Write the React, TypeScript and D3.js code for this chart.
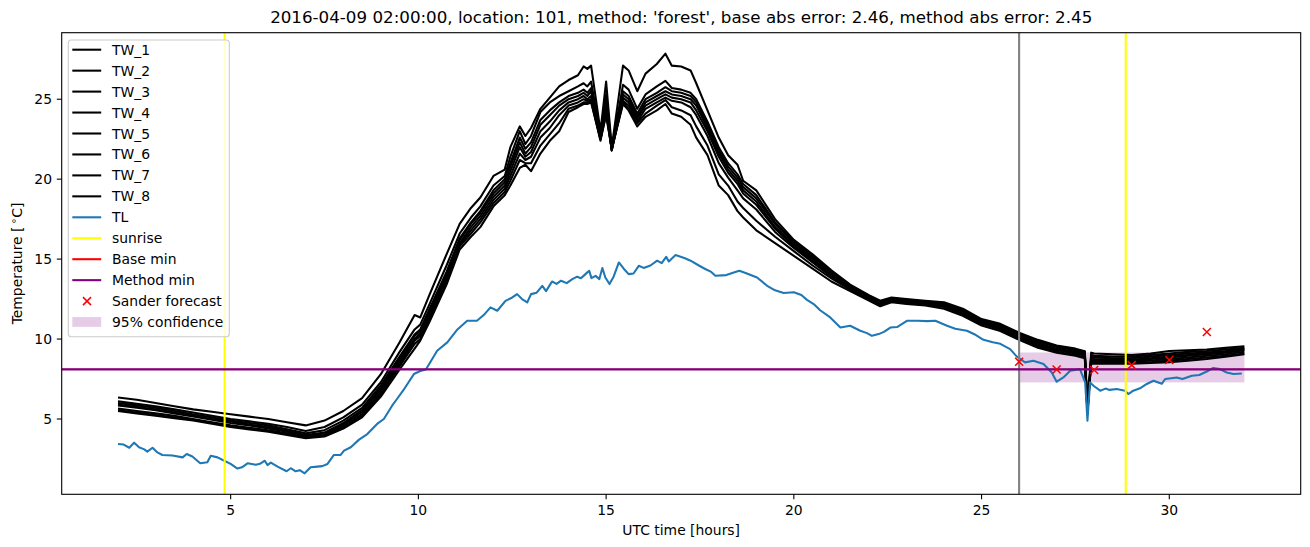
import React, { useEffect } from 'react';
import * as d3 from 'd3';

// shared time axis of the eight TW sensor series (hours UTC)
const twHours = [
  2, 2.5, 3, 3.5, 4, 4.5, 5, 5.5, 6, 6.5,
  7, 7.5, 8, 8.5, 9, 9.5, 9.9, 10.05, 10.3, 10.75,
  11.1, 11.4, 11.65, 12, 12.3, 12.45, 12.7, 12.85, 13, 13.25,
  13.5, 13.75, 14, 14.25, 14.4, 14.5, 14.6, 14.85, 15, 15.15,
  15.45, 15.6, 15.83, 16.05, 16.35, 16.58, 16.75, 17, 17.25, 17.4,
  17.7, 18, 18.25, 18.5, 18.65, 19, 19.5, 20, 20.5, 21,
  21.5, 22, 22.3, 22.6, 23, 23.5, 24, 24.5, 25, 25.5,
  26, 26.5, 27, 27.5, 27.75, 27.82, 27.92, 28, 28.5, 29,
  29.5, 30, 30.5, 31, 31.5, 32,
];

const tw1 = [
  6.35, 6.2, 6.0, 5.8, 5.6, 5.45, 5.3, 5.15, 5.0, 4.8,
  4.6, 4.9, 5.5, 6.3, 7.8, 9.8, 11.5, 11.35, 12.8, 15.3,
  17.2, 18.2, 18.85, 20.2, 20.6, 22.0, 23.3, 22.7, 23.2, 24.4,
  25.1, 25.8, 26.2, 26.5, 27.05, 26.9, 27.1, 23.0, 26.1, 22.0,
  27.1, 26.8, 25.5, 26.6, 27.2, 27.85, 27.1, 27.05, 26.8, 26.0,
  24.3, 22.6, 21.5, 20.9, 19.9, 19.3, 17.5, 16.2, 15.3, 14.3,
  13.4, 12.75, 12.4, 12.6, 12.5, 12.4, 12.3, 11.9, 11.25, 10.95,
  10.4, 9.95, 9.6, 9.4, 9.23, 5.5, 9.15, 9.1, 9.05, 9.0,
  9.1, 9.25, 9.3, 9.35, 9.45, 9.55,
];
const tw2 = [
  6.1, 5.95, 5.8, 5.6, 5.4, 5.2, 5.0, 4.85, 4.7, 4.5,
  4.25, 4.5, 5.1, 5.9, 7.3, 9.2, 10.6, 10.9, 12.2, 14.6,
  16.6, 17.6, 18.3, 19.6, 20.2, 21.4, 23.0, 22.2, 22.7, 24.2,
  24.8, 25.2, 25.5, 25.8, 26.0, 25.8, 26.1, 22.8, 25.3, 21.9,
  25.9, 25.6, 24.4, 25.3, 25.8, 26.15, 25.7, 25.6, 25.4, 25.0,
  23.6, 22.0, 21.0, 20.3, 19.7, 19.0, 17.3, 16.1, 15.2, 14.2,
  13.35, 12.7, 12.35, 12.55, 12.45, 12.35, 12.25, 11.85, 11.2, 10.9,
  10.35, 9.9, 9.55, 9.35, 9.2, 5.4, 9.0, 8.95, 8.9, 8.9,
  9.0, 9.1, 9.2, 9.25, 9.35, 9.45,
];
const tw3 = [
  6.0, 5.85, 5.7, 5.5, 5.3, 5.1, 4.9, 4.75, 4.6, 4.35,
  4.1, 4.3, 4.9, 5.7, 7.1, 8.9, 10.3, 10.6, 11.9, 14.2,
  16.3, 17.3, 18.0, 19.3, 20.0, 21.0, 22.6, 21.9, 22.3, 23.7,
  24.3, 24.8, 25.2, 25.4, 25.6, 25.4, 25.7, 22.7, 24.9, 21.9,
  25.5, 25.2, 24.1, 25.0, 25.4, 25.75, 25.5, 25.4, 25.2, 24.8,
  23.4, 21.8, 20.8, 20.1, 19.5, 18.8, 17.2, 16.0, 15.1, 14.1,
  13.3, 12.65, 12.3, 12.5, 12.4, 12.3, 12.2, 11.8, 11.15, 10.85,
  10.3, 9.85, 9.5, 9.3, 9.1, 5.3, 8.9, 8.85, 8.8, 8.8,
  8.9, 9.0, 9.1, 9.15, 9.25, 9.4,
];
const tw4 = [
  5.9, 5.75, 5.6, 5.4, 5.2, 5.0, 4.85, 4.65, 4.5, 4.25,
  4.0, 4.15, 4.75, 5.55, 6.95, 8.75, 10.2, 10.5, 11.8, 14.1,
  16.2, 17.2, 17.9, 19.1, 19.8, 20.8, 22.3, 21.6, 22.0, 23.4,
  24.0, 24.6, 25.0, 25.2, 25.4, 25.2, 25.5, 22.6, 24.7, 21.8,
  25.3, 25.0, 23.9, 24.8, 25.2, 25.5, 25.3, 25.2, 25.0, 24.6,
  23.2, 21.6, 20.6, 19.9, 19.3, 18.6, 17.0, 15.9, 15.0, 14.05,
  13.25, 12.6, 12.25, 12.45, 12.35, 12.25, 12.15, 11.75, 11.1, 10.75,
  10.2, 9.75, 9.4, 9.2, 9.05, 5.6, 8.8, 8.75, 8.7, 8.7,
  8.8, 8.9, 9.0, 9.1, 9.2, 9.35,
];
const tw5 = [
  5.85, 5.7, 5.55, 5.35, 5.15, 4.95, 4.75, 4.6, 4.4, 4.2,
  3.95, 4.1, 4.65, 5.45, 6.85, 8.6, 10.0, 10.35, 11.6, 13.9,
  16.0, 17.0, 17.7, 18.9, 19.6, 20.5, 22.0, 21.4, 21.7, 23.0,
  23.6, 24.3, 24.8, 25.0, 25.2, 25.0, 25.2, 22.5, 24.5, 21.8,
  25.1, 24.8, 23.8, 24.6, 25.0, 25.3, 25.1, 25.0, 24.8, 24.3,
  23.0, 21.4, 20.4, 19.7, 19.1, 18.4, 16.9, 15.8, 14.9, 14.0,
  13.2, 12.55, 12.2, 12.4, 12.3, 12.2, 12.1, 11.7, 11.05, 10.7,
  10.15, 9.7, 9.35, 9.15, 9.0, 5.5, 8.7, 8.65, 8.65, 8.65,
  8.75, 8.85, 8.95, 9.05, 9.15, 9.3,
];
const tw6 = [
  5.65, 5.5, 5.35, 5.2, 5.0, 4.8, 4.6, 4.45, 4.3, 4.1,
  3.9, 4.0, 4.55, 5.3, 6.7, 8.45, 9.9, 10.2, 11.5, 13.8,
  15.9, 16.8, 17.5, 18.7, 19.4, 20.2, 21.6, 21.2, 21.4, 22.6,
  23.2, 24.0, 24.6, 24.8, 25.0, 24.9, 25.0, 22.5, 24.3, 21.8,
  24.9, 24.6, 23.6, 24.4, 24.8, 25.1, 24.9, 24.8, 24.5, 24.0,
  22.7, 21.0, 20.1, 19.3, 18.8, 18.1, 16.7, 15.7, 14.8, 13.9,
  13.15, 12.5, 12.15, 12.4, 12.3, 12.2, 12.05, 11.6, 11.0, 10.65,
  10.1, 9.6, 9.3, 9.1, 8.95, 5.4, 8.6, 8.6, 8.6, 8.6,
  8.65, 8.75, 8.85, 8.95, 9.05, 9.2,
];
const tw7 = [
  5.55, 5.4, 5.25, 5.1, 4.95, 4.75, 4.55, 4.4, 4.25, 4.05,
  3.85, 3.95, 4.45, 5.2, 6.55, 8.3, 9.7, 10.0, 11.3, 13.6,
  15.8, 16.6, 17.3, 18.5, 19.2, 19.9, 21.2, 21.0, 21.0, 22.1,
  22.8, 23.5, 24.4, 24.6, 24.8, 24.8, 24.9, 22.4, 24.1, 21.9,
  24.8, 24.4, 23.5, 24.1, 24.6, 24.95, 24.5, 24.3, 24.0, 23.3,
  22.1, 20.3, 19.6, 18.6, 18.2, 17.4, 16.4, 15.5, 14.6, 13.8,
  13.1, 12.45, 12.1, 12.35, 12.25, 12.15, 12.0, 11.55, 10.95, 10.6,
  10.05, 9.55, 9.2, 9.0, 8.85, 5.7, 8.5, 8.5, 8.5, 8.5,
  8.55, 8.65, 8.75, 8.85, 8.95, 9.1,
];
const tw8 = [
  5.5, 5.35, 5.2, 5.05, 4.9, 4.7, 4.5, 4.35, 4.2, 4.0,
  3.8, 3.9, 4.4, 5.1, 6.4, 8.1, 9.4, 9.9, 11.1, 13.4,
  15.6, 16.4, 17.0, 18.3, 19.0, 19.6, 20.7, 20.9, 20.5, 21.6,
  22.4, 23.0, 24.2, 24.5, 24.7, 24.7, 24.8, 22.5, 24.0, 21.9,
  24.7, 24.3, 23.3, 23.9, 24.3, 24.7, 24.1, 23.9, 23.4, 22.6,
  21.5, 19.6, 19.0, 18.0, 17.6, 16.8, 16.0, 15.2, 14.4, 13.6,
  13.0, 12.4, 12.05, 12.3, 12.2, 12.1, 11.9, 11.45, 10.85, 10.5,
  9.95, 9.45, 9.15, 8.95, 8.8, 5.9, 8.45, 8.45, 8.45, 8.45,
  8.5, 8.55, 8.65, 8.75, 8.9, 9.05,
];

// air temperature TL
const tlHours = [
  2.0, 2.15, 2.3, 2.43, 2.56, 2.7, 2.78, 2.92, 3.05, 3.18,
  3.45, 3.72, 3.83, 3.98, 4.19, 4.38, 4.47, 4.65, 4.83, 5.0,
  5.18, 5.3, 5.45, 5.67, 5.78, 5.91, 5.98, 6.07, 6.25, 6.49,
  6.6, 6.73, 6.84, 6.97, 7.13, 7.31, 7.44, 7.58, 7.75, 7.93,
  8.02, 8.2, 8.42, 8.64, 8.9, 9.08, 9.3, 9.43, 9.6, 9.88,
  10.05, 10.2, 10.5, 10.77, 11.04, 11.3, 11.56, 11.74, 11.92, 12.1,
  12.32, 12.5, 12.63, 12.76, 12.9, 13.0, 13.15, 13.3, 13.4, 13.56,
  13.68, 13.8, 13.95, 14.1, 14.23, 14.33, 14.45, 14.55, 14.61, 14.72,
  14.82, 14.9, 14.98, 15.09, 15.2, 15.34, 15.47, 15.6, 15.73, 15.87,
  16.0, 16.18, 16.36, 16.48, 16.6, 16.67, 16.85, 17.1, 17.25, 17.47,
  17.64, 17.8, 17.91, 18.2, 18.4, 18.55, 18.75, 19.02, 19.29, 19.5,
  19.73, 20.0, 20.2, 20.35, 20.55, 20.7, 20.97, 21.24, 21.5, 21.77,
  21.95, 22.08, 22.26, 22.4, 22.57, 22.75, 23.01, 23.3, 23.55, 23.77,
  24.08, 24.3, 24.61, 24.85, 25.05, 25.3, 25.5, 25.76, 25.94, 26.16,
  26.38, 26.65, 26.87, 27.0, 27.18, 27.36, 27.62, 27.76, 27.82, 27.89,
  27.98, 28.16, 28.3, 28.41, 28.6, 28.82, 28.91, 29.04, 29.22, 29.4,
  29.58, 29.8, 29.89, 30.05, 30.2, 30.35, 30.6, 30.8, 31.04, 31.17,
  31.35, 31.53, 31.71, 31.93,
];
const tlValues = [
  3.44, 3.4, 3.2, 3.52, 3.23, 3.1, 2.96, 3.2, 2.91, 2.75,
  2.72, 2.6, 2.81, 2.65, 2.23, 2.29, 2.7, 2.6, 2.39, 2.19,
  1.9, 1.98, 2.23, 2.14, 2.2, 2.39, 2.12, 2.27, 2.02, 1.73,
  1.92, 1.73, 1.8, 1.6, 1.98, 2.02, 2.05, 2.19, 2.75, 2.75,
  3.02, 3.23, 3.71, 4.06, 4.69, 5.0, 5.83, 6.25, 6.8, 7.81,
  8.0, 8.1, 9.27, 9.79, 10.6, 11.14, 11.14, 11.5, 11.98, 11.77,
  12.39, 12.6, 12.81, 12.5, 12.29, 12.81, 12.9, 13.33, 13.0, 13.6,
  13.45, 13.65, 13.5, 13.75, 13.9, 13.8, 14.06, 14.27, 13.81, 13.95,
  13.75, 14.44, 13.85, 13.44, 13.9, 14.79, 14.4, 14.06, 14.1, 14.58,
  14.45, 14.6, 14.9, 14.75, 15.14, 14.85, 15.25, 15.05, 14.9, 14.6,
  14.38, 14.2, 13.96, 14.0, 14.16, 14.27, 14.1, 13.85, 13.33, 13.05,
  12.88, 12.93, 12.75, 12.45, 12.15, 11.8, 11.35, 10.72, 10.83, 10.52,
  10.37, 10.2, 10.31, 10.45, 10.72, 10.75, 11.14, 11.14, 11.12, 11.14,
  10.83, 10.65, 10.52, 10.25, 9.95, 9.8, 9.7, 9.37, 8.9, 8.54,
  8.64, 8.44, 7.91, 7.33, 7.6, 8.02, 8.12, 7.29, 4.89, 7.29,
  7.08, 6.77, 6.9, 6.82, 6.88, 6.77, 6.56, 6.77, 6.92, 7.19,
  7.39, 7.2, 7.5, 7.55, 7.6, 7.5, 7.71, 7.75, 8.02, 8.19,
  8.12, 7.91, 7.81, 7.85,
];

const sunriseHours = [4.84, 28.84];
const forecastStartHour = 26.0;
const baseMinValue = 8.1;
const methodMinValue = 8.1;
const sanderHours = [26, 27, 28, 29, 30, 31];
const sanderValues = [8.58, 8.1, 8.06, 8.37, 8.69, 10.44];
const confidenceHours = [26.0, 32.0];
const confidenceRange = [7.29, 9.16];

const xTicks = [5, 10, 15, 20, 25, 30];
const yTicks = [5, 10, 15, 20, 25];
const twLabels = ['TW_1', 'TW_2', 'TW_3', 'TW_4', 'TW_5', 'TW_6', 'TW_7', 'TW_8'];

const title =
  "2016-04-09 02:00:00, location: 101, method: 'forest', base abs error: 2.46, method abs error: 2.45";

const W = 1310;
const H = 547;
const box = { left: 61.7, right: 1300.7, top: 32.7, bottom: 494.3 };
const FONT = 'DejaVu Sans, sans-serif';
const FS = 13.9;
const LW = 2.08;

const App: React.FC = () => {
  useEffect(() => {
    document.body.style.margin = '0';
  }, []);

  const x = d3.scaleLinear().domain([0.5, 33.5]).range([box.left, box.right]);
  const y = d3.scaleLinear().domain([0.29, 29.16]).range([box.bottom, box.top]);

  const line = d3.line<[number, number]>()
    .x(d => x(d[0]))
    .y(d => y(d[1]));

  const twSeries = [tw1, tw2, tw3, tw4, tw5, tw6, tw7, tw8];
  const twPaths = twSeries.map(s => line(twHours.map((h, i) => [h, s[i]] as [number, number])) || '');
  const tlPath = line(tlHours.map((h, i) => [h, tlValues[i]] as [number, number])) || '';

  // legend rows
  const legend: { label: string; kind: string; color: string }[] = [
    ...twLabels.map(l => ({ label: l, kind: 'line', color: '#000000' })),
    { label: 'TL', kind: 'line', color: '#1f77b4' },
    { label: 'sunrise', kind: 'line', color: '#ffff00' },
    { label: 'Base min', kind: 'line', color: '#ff0000' },
    { label: 'Method min', kind: 'line', color: '#800080' },
    { label: 'Sander forecast', kind: 'marker', color: '#ff0000' },
    { label: '95% confidence', kind: 'patch', color: '#800080' },
  ];
  const legX = 68.3;
  const legY = 40;
  const legW = 161;
  const legH = 296.7;
  const rowY0 = 51.2;
  const rowStep = 20.95;

  const cross = (cx: number, cy: number, r: number) =>
    `M${cx - r},${cy - r}L${cx + r},${cy + r}M${cx - r},${cy + r}L${cx + r},${cy - r}`;

  return (
    <svg width={W} height={H} style={{ display: 'block', background: '#fff' }} fontFamily={FONT}>
      <defs>
        <clipPath id="plotArea">
          <rect x={box.left} y={box.top} width={box.right - box.left} height={box.bottom - box.top} />
        </clipPath>
      </defs>
      <rect x={0} y={0} width={W} height={H} fill="#fff" />

      <g clipPath="url(#plotArea)">
        {/* 95% confidence band */}
        <rect
          x={x(confidenceHours[0])}
          y={y(confidenceRange[1])}
          width={x(confidenceHours[1]) - x(confidenceHours[0])}
          height={y(confidenceRange[0]) - y(confidenceRange[1])}
          fill="#800080"
          fillOpacity={0.2}
        />
        {twPaths.map((d, i) => (
          <path key={i} d={d} fill="none" stroke="#000" strokeWidth={LW} strokeLinejoin="round" />
        ))}
        <path d={tlPath} fill="none" stroke="#1f77b4" strokeWidth={LW} strokeLinejoin="round" />
        <line x1={x(forecastStartHour)} x2={x(forecastStartHour)} y1={box.top} y2={box.bottom} stroke="#808080" strokeWidth={LW} />
        {sunriseHours.map(h => (
          <line key={h} x1={x(h)} x2={x(h)} y1={box.top} y2={box.bottom} stroke="#ffff00" strokeWidth={LW} />
        ))}
        <line x1={box.left} x2={box.right} y1={y(baseMinValue)} y2={y(baseMinValue)} stroke="#ff0000" strokeWidth={1.2} />
        <line x1={box.left} x2={box.right} y1={y(methodMinValue)} y2={y(methodMinValue)} stroke="#800080" strokeWidth={LW + 0.3} />
        {sanderHours.map((h, i) => (
          <path key={h} d={cross(x(h), y(sanderValues[i]), 4)} stroke="#ff0000" strokeWidth={1.5} fill="none" />
        ))}
      </g>

      {/* frame */}
      <rect x={box.left} y={box.top} width={box.right - box.left} height={box.bottom - box.top} fill="none" stroke="#000" strokeWidth={1.1} />

      {/* x axis */}
      {xTicks.map(t => (
        <g key={t}>
          <line x1={x(t)} x2={x(t)} y1={box.bottom} y2={box.bottom + 4.9} stroke="#000" strokeWidth={1.1} />
          <text x={x(t)} y={box.bottom + 20.5} fontSize={FS} textAnchor="middle" fill="#000">{t}</text>
        </g>
      ))}
      {/* y axis */}
      {yTicks.map(t => (
        <g key={t}>
          <line x1={box.left - 4.9} x2={box.left} y1={y(t)} y2={y(t)} stroke="#000" strokeWidth={1.1} />
          <text x={box.left - 9.7} y={y(t) + 5} fontSize={FS} textAnchor="end" fill="#000">{t}</text>
        </g>
      ))}

      <text x={(box.left + box.right) / 2} y={535} fontSize={FS} textAnchor="middle">UTC time [hours]</text>
      <text transform={`translate(22,${(box.top + box.bottom) / 2}) rotate(-90)`} fontSize={FS} textAnchor="middle">
        Temperature [<tspan dx={2.5} dy={-5} fontSize={10}>∘</tspan><tspan dy={5}>C]</tspan>
      </text>
      <text x={(box.left + box.right) / 2} y={22.5} fontSize={16.7} textAnchor="middle">{title}</text>

      {/* legend */}
      <rect x={legX} y={legY} width={legW} height={legH} rx={3} ry={3} fill="#fff" fillOpacity={0.8} stroke="#cccccc" strokeWidth={1.1} />
      {legend.map((e, i) => {
        const cy = rowY0 + i * rowStep;
        return (
          <g key={e.label}>
            {e.kind === 'line' && (
              <line x1={72.3} x2={101.2} y1={cy - 1.5} y2={cy - 1.5} stroke={e.color} strokeWidth={LW} />
            )}
            {e.kind === 'marker' && (
              <path d={cross(87, cy - 1.5, 4)} stroke={e.color} strokeWidth={1.5} fill="none" />
            )}
            {e.kind === 'patch' && (
              <rect x={72.3} y={cy - 6.5} width={28.9} height={9.8} fill={e.color} fillOpacity={0.2} />
            )}
            <text x={112} y={cy + 3.5} fontSize={FS} fill="#000">{e.label}</text>
          </g>
        );
      })}
    </svg>
  );
};

export default App;
